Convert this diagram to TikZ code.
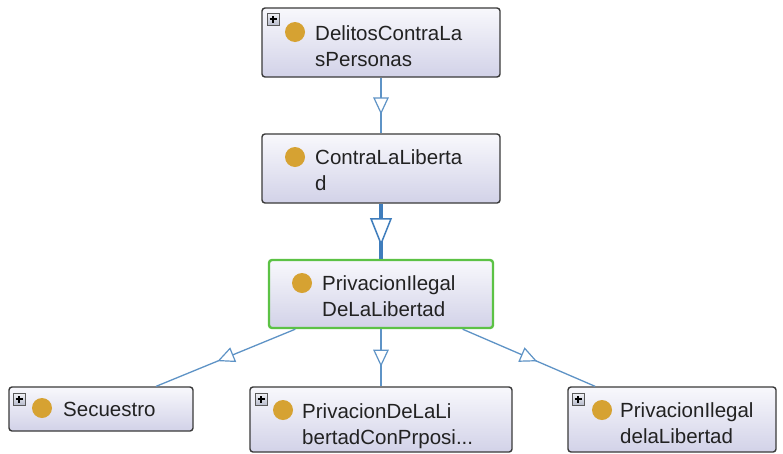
\documentclass[tikz,border=0pt]{standalone}
\usepackage{fontspec}
\setmainfont{Liberation Sans}
\usetikzlibrary{decorations.markings}

\definecolor{boxtop}{HTML}{F8F8FC}
\definecolor{boxbot}{HTML}{D2D2E8}
\definecolor{boxline}{HTML}{3A3A3A}
\definecolor{selgreen}{HTML}{5CC245}
\definecolor{classdot}{HTML}{D6A232}
\definecolor{edgeblue}{HTML}{5E93C6}
\definecolor{edgedark}{HTML}{3F7DBC}
\definecolor{textcol}{HTML}{222222}
\definecolor{plustop}{HTML}{F2F2F6}
\definecolor{plusbot}{HTML}{B8BCCC}

\tikzset{
  cls/.style={draw=boxline, line width=1.4pt, rounded corners=3pt,
    top color=boxtop, bottom color=boxbot, inner sep=0pt},
  sel/.style={cls, draw=selgreen, line width=2.4pt},
  classdotnode/.style={circle, fill=classdot, minimum size=20pt, inner sep=0pt},
  lbl/.style={anchor=base west, font=\fontsize{20.5}{25}\selectfont,
    text=textcol, inner sep=0pt},
  plusbox/.style={draw=black!65, line width=0.6pt, top color=plustop,
    bottom color=plusbot, minimum size=12pt, inner sep=0pt,
    path picture={\draw[black, line width=1.1pt]
      ([xshift=-3.5pt]path picture bounding box.center) -- ++(7pt,0)
      ([yshift=-3.5pt]path picture bounding box.center) -- ++(0,7pt);}},
  isa/.style={draw=edgeblue, line width=1.3pt, postaction={decorate},
    decoration={markings, mark=at position 0.5 with
      {\draw[edgeblue, line width=1.2pt, fill=white]
        (7.5pt,0) -- (-7.5pt,7pt) -- (-7.5pt,-7pt) -- cycle;}}},
  isathick/.style={draw=edgedark, line width=4.5pt, postaction={decorate},
    decoration={markings, mark=at position 0.5 with
      {\draw[edgedark, line width=1.5pt, fill=white]
        (12.5pt,0) -- (-12.5pt,10pt) -- (-12.5pt,-10pt) -- cycle;}}},
}

\begin{document}
\begin{tikzpicture}[x=1pt, y=-1pt]
  \useasboundingbox[fill=white] (0,0) rectangle (783,453);

  % class boxes
  \node[cls, minimum width=238pt, minimum height=69pt] (b1) at (381,42.5) {};
  \node[cls, minimum width=238pt, minimum height=69pt] (b2) at (381,168.5) {};
  \node[sel, minimum width=224pt, minimum height=68pt] (b3) at (381,294) {};
  \node[cls, minimum width=184pt, minimum height=44pt] (c1) at (101,409) {};
  \node[cls, minimum width=262pt, minimum height=65pt] (c2) at (381,419.5) {};
  \node[cls, minimum width=208pt, minimum height=65pt] (c3) at (672,419.5) {};

  % subclass connectors
  \draw[isa] (b1) -- (b2);
  \draw[isathick] (b2) -- (b3);
  \draw[isa] (b3) -- (c1);
  \draw[isa] (b3) -- (c2);
  \draw[isa] (b3) -- (c3);

  % expand markers
  \node[plusbox] (p1) at (273,19) {};
  \node[plusbox] (p4) at (19,399) {};
  \node[plusbox] (p5) at (261,399) {};
  \node[plusbox] (p6) at (578,399) {};

  % class markers
  \node[classdotnode] (d1) at (295,32) {};
  \node[classdotnode] (d2) at (295,157) {};
  \node[classdotnode] (d3) at (302,283) {};
  \node[classdotnode] (d4) at (42,408) {};
  \node[classdotnode] (d5) at (283,410) {};
  \node[classdotnode] (d6) at (602,410) {};

  % labels
  \node[lbl] (t1a) at (315,40) {DelitosContraLa};
  \node[lbl] (t1b) at (315,66) {sPersonas};
  \node[lbl] (t2a) at (315,164) {ContraLaLiberta};
  \node[lbl] (t2b) at (315,190) {d};
  \node[lbl] (t3a) at (322,290) {PrivacionIlegal};
  \node[lbl] (t3b) at (322,316) {DeLaLibertad};
  \node[lbl] (t4a) at (63,416) {Secuestro};
  \node[lbl] (t5a) at (302,418) {PrivacionDeLaLi};
  \node[lbl] (t5b) at (302,444) {bertadConPrposi...};
  \node[lbl] (t6a) at (620,417) {PrivacionIlegal};
  \node[lbl] (t6b) at (620,443) {delaLibertad};
\end{tikzpicture}
\end{document}
